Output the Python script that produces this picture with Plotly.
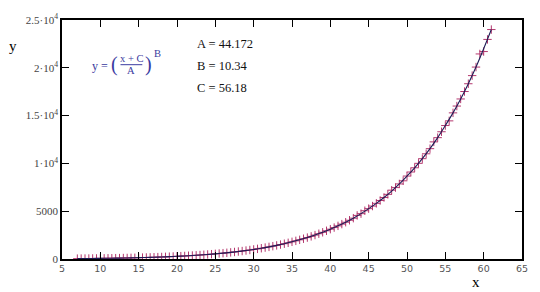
import plotly.graph_objects as go

# ---- data ----
x_data = [7, 7.5, 8, 8.5, 9, 9.5, 10, 10.5, 11, 11.5, 12, 12.5, 13, 13.5, 14, 14.5,
          15, 15.5, 16, 16.5, 17, 17.5, 18, 18.5, 19, 19.5, 20, 20.5, 21, 21.5, 22, 22.5,
          23, 23.5, 24, 24.5, 25, 25.5, 26, 26.5, 27, 27.5, 28, 28.5, 29, 29.5, 30, 30.5,
          31, 31.5, 32, 32.5, 33, 33.5, 34, 34.5, 35, 35.5, 36, 36.5, 37, 37.5, 38, 38.5,
          39, 39.5, 40, 40.5, 41, 41.5, 42, 42.5, 43, 43.5, 44, 44.5, 45, 45.5, 46, 46.5,
          47, 47.5, 48, 48.5, 49, 49.5, 50, 50.5, 51, 51.5, 52, 52.5, 53, 53.5, 54, 54.5,
          55, 55.5, 56, 56.5, 57, 57.5, 58, 58.5, 59, 59.5, 60, 60.5, 61]
y_data = [40, 44, 47, 51, 56, 60, 65, 71, 76, 82, 88, 95, 103, 111, 119, 129,
          139, 149, 160, 171, 184, 197, 211, 227, 243, 261, 280, 299, 319, 341, 364, 389,
          415, 443, 473, 505, 540, 575, 611, 650, 692, 736, 783, 833, 886, 942, 1002, 1062,
          1126, 1194, 1266, 1342, 1423, 1508, 1599, 1695, 1797, 1899, 2006, 2120, 2240, 2367, 2502, 2644,
          2794, 2953, 3120, 3288, 3465, 3651, 3847, 4054, 4272, 4560, 4744, 5050, 5269, 5539, 5822, 6120,
          6433, 6762, 7200, 7471, 7853, 8180, 8676, 9099, 9542, 10007, 10494, 11005, 11541, 12250, 12693, 13311,
          13960, 14450, 15287, 15998, 16741, 17518, 18333, 19184, 20076, 21450, 21700, 22970, 24000]

fit_x = list(range(7, 62))
fit_y = [40.5, 47.5, 55.8, 65.4, 76.1, 88.4, 102.7, 119.4, 138.8, 159.7, 183.8, 211.4, 243.3,
         280, 319, 364, 415, 473, 540, 611, 692, 783, 886, 1002, 1126, 1266, 1423, 1599, 1797,
         2006, 2240, 2502, 2794, 3120, 3465, 3847, 4272, 4744, 5269, 5822, 6433, 7108, 7853,
         8676, 9542, 10494, 11541, 12693, 13960, 15287, 16741, 18333, 20076, 21990, 24000]

y_tickvals = [0, 5000, 10000, 15000, 20000, 25000]
y_ticktext = ["0", "5000", "1·10<sup>4</sup>", "1.5·10<sup>4</sup>", "2·10<sup>4</sup>", "2.5·10<sup>4</sup>"]
x_tickvals = [5, 10, 15, 20, 25, 30, 35, 40, 45, 50, 55, 60, 65]

params = ["A = 44.172", "B = 10.34", "C = 56.18"]

W, H = 540, 292
L, R, T, B = 62, 14, 13, 33

def px(xp):
    return (xp - L) / (W - L - R)

def py(yp):
    return 1 - (yp - T) / (H - T - B)

mcol = "#b4386e"
fig = go.Figure()
fig.add_trace(go.Scatter(x=x_data, y=y_data, mode="markers",
                         marker=dict(symbol="cross-thin-open", size=6, color=mcol,
                                     line=dict(color=mcol, width=1)),
                         showlegend=False))
fig.add_trace(go.Scatter(x=fit_x, y=fit_y, mode="lines", line_shape="spline",
                         line=dict(color="#1c1c55", width=1.1), showlegend=False))

axis_common = dict(showgrid=False, zeroline=False, showline=True, linecolor="black",
                   linewidth=1.5, mirror="ticks", ticks="inside", ticklen=7,
                   tickcolor="black", tickwidth=1.2)
fig.update_xaxes(range=[5, 65], tickvals=x_tickvals,
                 tickfont=dict(family="DejaVu Sans", size=9.5, color="#555"), **axis_common)
fig.update_yaxes(range=[0, 25000], tickvals=y_tickvals, ticktext=y_ticktext,
                 tickfont=dict(family="Liberation Serif", size=11, color="#444"), **axis_common)

ann = []
serif = "Liberation Serif"
ann.append(dict(x=px(13), y=py(40), text="y", font=dict(family=serif, size=15, color="black")))
ann.append(dict(x=px(480), y=py(283), text="x", font=dict(family=serif, size=15, color="black")))
for i, t in enumerate(params):
    ann.append(dict(x=px(196), y=py(38 + 22.5 * i), text=t, xanchor="left",
                    font=dict(family=serif, size=12.5, color="#111")))
blue = "#3a3aa0"
ann.append(dict(x=px(110), y=py(60), text="y =", xanchor="right", font=dict(family=serif, size=12, color=blue)))
ann.append(dict(x=px(115), y=py(59), text="(", font=dict(family=serif, size=20, color=blue)))
ann.append(dict(x=px(132), y=py(53), text="x + C", font=dict(family=serif, size=10.5, color=blue)))
ann.append(dict(x=px(132), y=py(65), text="A", font=dict(family=serif, size=10.5, color=blue)))
ann.append(dict(x=px(149), y=py(59), text=")", font=dict(family=serif, size=20, color=blue)))
ann.append(dict(x=px(158), y=py(47), text="B", font=dict(family=serif, size=10.5, color=blue)))
for a in ann:
    a.update(xref="paper", yref="paper", showarrow=False)
    a.setdefault("xanchor", "center")
    a["yanchor"] = "middle"

shapes = [dict(type="line", xref="paper", yref="paper", x0=px(121), x1=px(143),
               y0=py(59), y1=py(59), line=dict(color=blue, width=1))]

fig.update_layout(width=W, height=H, margin=dict(l=L, r=R, t=T, b=B),
                  paper_bgcolor="white", plot_bgcolor="white",
                  annotations=ann, shapes=shapes)
fig.write_html("out.html")
